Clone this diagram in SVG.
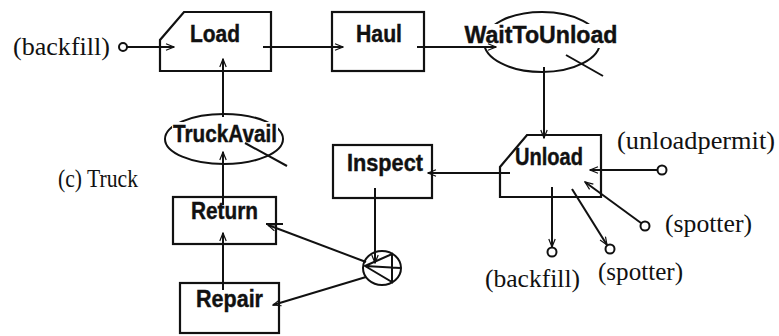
<svg xmlns="http://www.w3.org/2000/svg" width="779" height="336" viewBox="0 0 779 336">
<style>
.box{fill:#fff;stroke:#111;stroke-width:2.2}
.ell{fill:none;stroke:#111;stroke-width:2}
.lbl{font-family:"Liberation Sans",Arial,sans-serif;font-weight:bold;font-size:23px;fill:#111;stroke:#111;stroke-width:0.4;text-anchor:middle}
.res{font-family:"Liberation Serif","Times New Roman",serif;font-size:26px;fill:#111}
.ln{stroke:#111;stroke-width:2;fill:none}
.arr{stroke:#111;stroke-width:2;fill:none;marker-end:url(#ah)}
.port{fill:#fff;stroke:#111;stroke-width:2}
</style>
<defs>
<marker id="ah" viewBox="0 0 10 10" refX="10" refY="5" markerWidth="10" markerHeight="8" markerUnits="userSpaceOnUse" orient="auto">
<path d="M0,1 L10,5 L0,9" fill="none" stroke="#111" stroke-width="1.5"/>
</marker>
</defs>
<rect width="779" height="336" fill="#fff"/>

<g id="load">
<path class="box" d="M184,12 H271 V71 H160 V40 Z"/>
<text class="lbl" x="215" y="42" textLength="50" lengthAdjust="spacingAndGlyphs">Load</text>
</g>
<g id="haul">
<rect class="box" x="332" y="12" width="92" height="59"/>
<text class="lbl" x="379" y="42" textLength="46" lengthAdjust="spacingAndGlyphs">Haul</text>
</g>
<g id="waittounload">
<ellipse class="ell" cx="542" cy="42" rx="58" ry="30"/>
<rect x="464" y="24" width="156" height="24" fill="#fff"/>
<text class="lbl" x="541" y="43" textLength="153" lengthAdjust="spacingAndGlyphs">WaitToUnload</text>
<line class="ln" x1="566" y1="55" x2="603" y2="76"/>
</g>
<g id="unload">
<path class="box" d="M527,135 H601 V197 H500 V167 Z"/>
<text class="lbl" x="549" y="165" textLength="68" lengthAdjust="spacingAndGlyphs">Unload</text>
</g>
<g id="inspect">
<rect class="box" x="333" y="145" width="99" height="53"/>
<text class="lbl" x="385" y="171" textLength="76" lengthAdjust="spacingAndGlyphs">Inspect</text>
</g>
<g id="truckavail">
<ellipse class="ell" cx="224" cy="139" rx="59" ry="25"/>
<rect x="172" y="122" width="106" height="24" fill="#fff"/>
<text class="lbl" x="225" y="142" textLength="104" lengthAdjust="spacingAndGlyphs">TruckAvail</text>
<line class="ln" x1="245" y1="143" x2="287" y2="166"/>
</g>
<g id="return">
<rect class="box" x="173" y="197" width="103" height="47"/>
<text class="lbl" x="224.5" y="219" textLength="67" lengthAdjust="spacingAndGlyphs">Return</text>
</g>
<g id="repair">
<rect class="box" x="180" y="283" width="99" height="50"/>
<text class="lbl" x="229.5" y="307" textLength="67" lengthAdjust="spacingAndGlyphs">Repair</text>
</g>
<g id="branch">
<ellipse class="ell" cx="382" cy="268" rx="19" ry="17"/>
<path class="ln" d="M365,266 L392,254 L392,282 Z M365,266 L400,268"/>
</g>

<g id="resources">
<text class="res" x="13" y="55" textLength="97" lengthAdjust="spacingAndGlyphs">(backfill)</text>
<text class="res" x="617" y="149" textLength="158" lengthAdjust="spacingAndGlyphs">(unloadpermit)</text>
<text class="res" x="665" y="232" textLength="87" lengthAdjust="spacingAndGlyphs">(spotter)</text>
<text class="res" x="598" y="280" textLength="85" lengthAdjust="spacingAndGlyphs">(spotter)</text>
<text class="res" x="485" y="287" textLength="95" lengthAdjust="spacingAndGlyphs">(backfill)</text>
<text class="res" x="58" y="187" font-size="22" textLength="80" lengthAdjust="spacingAndGlyphs">(c) Truck</text>
</g>

<g id="connectors">
<line class="arr" x1="127" y1="47" x2="174" y2="47"/>
<line class="arr" x1="263" y1="47" x2="343" y2="47"/>
<line class="arr" x1="417" y1="47" x2="496" y2="47"/>
<line class="arr" x1="544" y1="67" x2="544" y2="138"/>
<line class="arr" x1="510" y1="173" x2="428" y2="173"/>
<line class="arr" x1="657" y1="170" x2="590" y2="170"/>
<line class="arr" x1="641" y1="223" x2="585" y2="182"/>
<line class="arr" x1="552" y1="187" x2="552" y2="247"/>
<line class="arr" x1="572" y1="189" x2="607" y2="245"/>
<line class="arr" x1="223" y1="117" x2="223" y2="59"/>
<line class="arr" x1="223" y1="205" x2="223" y2="152"/>
<line class="arr" x1="223" y1="290" x2="223" y2="233"/>
<line class="arr" x1="375" y1="188" x2="375" y2="263"/>
<line class="arr" x1="366" y1="262" x2="268" y2="225"/>
<line class="ln" x1="266" y1="224" x2="283" y2="224"/>
<line class="arr" x1="366" y1="277" x2="273" y2="305"/>
<circle class="port" cx="123" cy="47" r="4"/>
<circle class="port" cx="662" cy="170" r="4.5"/>
<circle class="port" cx="645" cy="226" r="4.5"/>
<circle class="port" cx="552" cy="252" r="4.5"/>
<circle class="port" cx="610" cy="249" r="4.5"/>
</g>
</svg>
